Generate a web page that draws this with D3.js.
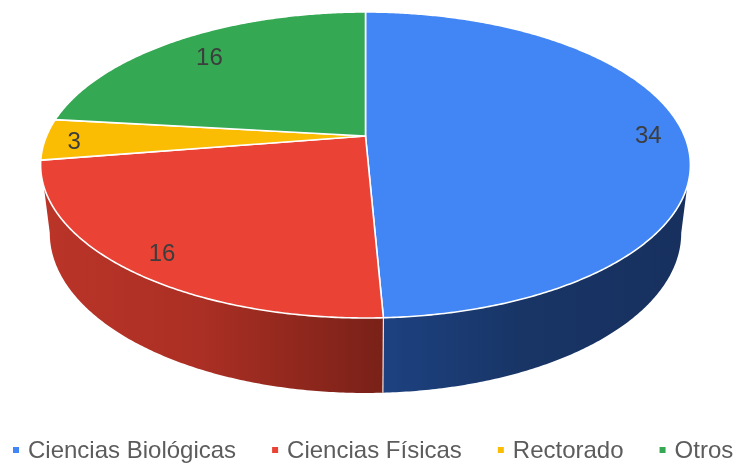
<!DOCTYPE html>
<html><head><meta charset="utf-8">
<script src="https://cdn.jsdelivr.net/npm/d3@7"></script>
<style>html,body{margin:0;padding:0;background:#fff}svg{display:block;filter:blur(0.45px)}</style>
</head><body><svg id="c" width="736" height="464"></svg>
<script>
const categories = ["Ciencias Biológicas","Ciencias Físicas","Rectorado","Otros"];
const values = [34,16,3,16];
const colors = ["#4285f4","#ea4335","#fbbc04","#34a853"];
const labelRadii = [0.89,0.88,0.91,0.82];

const svg = d3.select("#c");
const k = 0.1895;
const topDisc = {cx:365.5, cy:136, A:319, B:147.5};
const baseDisc = {cx:365.5, cy:202.7, A:310, B:154.2};
function project(d, theta, r=1){
  const X = r*Math.sin(theta), Y = r*Math.cos(theta), w = 1+k*Y;
  return [d.cx + d.A*X/w, d.cy - d.B*Y/w];
}
const arcs = d3.pie().sort(null).value(v=>v)(values);
const deg = Math.PI/180;
const range = (a,b) => { const n = Math.max(2,Math.ceil(Math.abs(b-a)/(0.5*deg))); return d3.range(n+1).map(i=>a+(b-a)*i/n); };
const line = d3.line().curve(d3.curveLinear);

const defs = svg.append("defs");
function grad(id, stops){
  const g = defs.append("linearGradient").attr("id",id).attr("gradientUnits","userSpaceOnUse")
    .attr("x1",stops[0][0]).attr("x2",stops[stops.length-1][0]).attr("y1",0).attr("y2",0);
  const span = stops[stops.length-1][0]-stops[0][0];
  stops.forEach(s=>g.append("stop").attr("offset",(s[0]-stops[0][0])/span).attr("stop-color",s[1]));
}
const split = arcs[0].endAngle;
const splitX = project(topDisc, split)[0];
grad("wallRed",[[40,"#bb3428"],[200,"#ab2f24"],[splitX,"#792118"]]);
grad("wallBlue",[[splitX,"#1d4180"],[520,"#183566"],[692,"#17305e"]]);

// side wall: blue from the right shoulder to the seam, red from the seam to the left shoulder
const rightStart = 108.7*deg, rightBase = 100.9*deg, leftEnd = 251.3*deg, leftBase = 259.1*deg;
const walls = [
  {fill:"url(#wallBlue)", pts:[...range(rightStart,split).map(t=>project(topDisc,t)), ...range(split,rightBase).map(t=>project(baseDisc,t))]},
  {fill:"url(#wallRed)", pts:[...range(leftEnd,split).map(t=>project(topDisc,t)), ...range(split,leftBase).map(t=>project(baseDisc,t))]}
];
svg.append("g").selectAll("path").data(walls).join("path")
  .attr("d",d=>line(d.pts)+"Z").attr("fill",d=>d.fill);
// seam
const seamTop = project(topDisc,split), seamBottom = project(baseDisc,split);
svg.append("path").attr("d",line([seamTop,seamBottom])).attr("stroke","#fff").attr("stroke-opacity",0.85).attr("stroke-width",1.2).attr("fill","none");

// top face
svg.append("g").selectAll("path").data(arcs).join("path")
  .attr("d",d=>line([[topDisc.cx,topDisc.cy],...range(d.startAngle,d.endAngle).map(t=>project(topDisc,t))])+"Z")
  .attr("fill",(d,i)=>colors[i]).attr("stroke","#fff").attr("stroke-width",1.6).attr("stroke-linejoin","round");

// slice labels
svg.append("g").selectAll("text").data(arcs).join("text")
  .attr("transform",(d,i)=>{const p=project(topDisc,(d.startAngle+d.endAngle)/2,labelRadii[i]);return `translate(${p[0]},${p[1]})`;})
  .attr("text-anchor","middle").attr("dy","0.4em")
  .attr("font-family","'Liberation Sans',Arial,sans-serif").attr("font-size",24).attr("fill","#3d3d3d")
  .text(d=>d.value);

// legend
let x = 28; const gap = 51; const legendY = 458;
const lg = svg.append("g").attr("font-family","'Liberation Sans',Arial,sans-serif");
categories.forEach((c,i)=>{
  const t = lg.append("text").attr("x",x).attr("y",legendY).attr("font-size",24).attr("fill","#5c5c5c").text(c);
  lg.append("rect").attr("x",x-15).attr("y",legendY-11).attr("width",6).attr("height",6).attr("fill",colors[i]);
  x += t.node().getComputedTextLength()+gap;
});
</script></body></html>
